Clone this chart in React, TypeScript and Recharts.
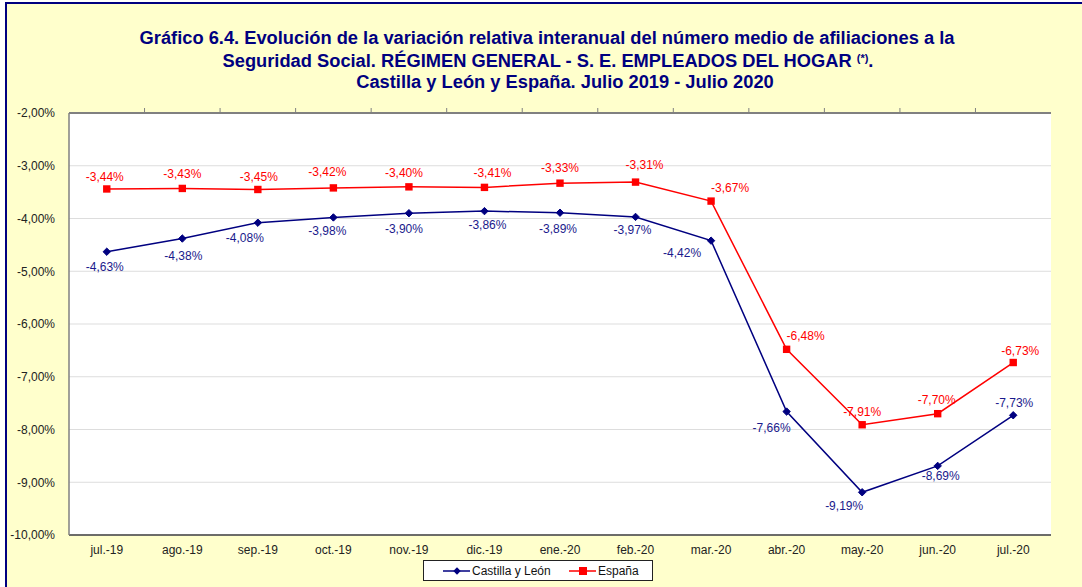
import React from 'react';
import { ComposedChart, Line, XAxis, YAxis, CartesianGrid } from 'recharts';

const months = ['jul.-19', 'ago.-19', 'sep.-19', 'oct.-19', 'nov.-19', 'dic.-19', 'ene.-20', 'feb.-20', 'mar.-20', 'abr.-20', 'may.-20', 'jun.-20', 'jul.-20'];
const castillaLeon = [-4.63, -4.38, -4.08, -3.98, -3.90, -3.86, -3.89, -3.97, -4.42, -7.66, -9.19, -8.69, -7.73];
const espana = [-3.44, -3.43, -3.45, -3.42, -3.40, -3.41, -3.33, -3.31, -3.67, -6.48, -7.91, -7.70, -6.73];
const yTicks = [-10, -9, -8, -7, -6, -5, -4, -3, -2];

// label placement (styling), relative to each point
const clOffsets: [number, number][] = [[-2, 15], [1, 17], [-13, 15], [-6, 14], [-5, 16], [3, 14], [-2, 16], [-3, 13], [-29, 12], [-15, 16], [-18, 14], [3, 10], [1, -12]];
const esOffsets: [number, number][] = [[-2, -12], [0, -14], [1, -12], [-6, -16], [-5, -14], [8, -14], [0, -15], [9, -17], [19, -13], [19, -13], [0, -13], [-1, -14], [7, -12]];

const data = months.map((m, i) => ({ month: m, cl: castillaLeon[i], es: espana[i] }));

const NAVY = '#000080';
const RED = '#FF0000';
const FONT = '"Liberation Sans", Arial, sans-serif';
const PLOT_LEFT = 69;
const PLOT_RIGHT = 1051;
const PLOT_TOP = 113;
const BAND = (PLOT_RIGHT - PLOT_LEFT) / 13;

const fmt = (v: number) => v.toFixed(2).replace('.', ',') + '%';

const Diamond = (props: any) => {
  const { cx, cy } = props;
  if (cx == null || cy == null) return null;
  const r = 3.7;
  return <polygon points={`${cx},${cy - r} ${cx + r},${cy} ${cx},${cy + r} ${cx - r},${cy}`} fill={NAVY} stroke={NAVY} />;
};

const Square = (props: any) => {
  const { cx, cy } = props;
  if (cx == null || cy == null) return null;
  return <rect x={cx - 3.7} y={cy - 3.7} width={7.4} height={7.4} fill={RED} />;
};

const makeLabel = (offsets: [number, number][], color: string) => (props: any) => {
  const { x, y, value, index } = props;
  if (x == null || y == null) return null;
  const [dx, dy] = offsets[index] || [0, 0];
  return (
    <text x={x + dx} y={y + dy} textAnchor="middle" dominantBaseline="central" fontSize={12} fontFamily={FONT} fill={color}>
      {fmt(Number(value))}
    </text>
  );
};

const titleStyle: React.CSSProperties = { position: 'absolute', left: 0, textAlign: 'center', color: NAVY, fontWeight: 'bold', fontSize: 18.3, lineHeight: '20px', whiteSpace: 'nowrap' };

export default function App() {
  return (
    <div style={{ position: 'fixed', left: 0, top: 0, width: 1082, height: 587, overflow: 'hidden', background: '#fff', fontFamily: FONT }}>
      <div style={{ position: 'absolute', left: 5, top: 2, width: 1100, height: 600, background: '#FFFFCC', borderLeft: `2px solid ${NAVY}`, borderTop: `2px solid ${NAVY}` }} />
      <div style={{ ...titleStyle, top: 28, width: 1094 }}>
        Gráfico 6.4. Evolución de la variación relativa interanual del número medio de afiliaciones a la
      </div>
      <div style={{ ...titleStyle, top: 48, width: 1096 }}>
        Seguridad Social. RÉGIMEN GENERAL - S. E. EMPLEADOS DEL HOGAR <span style={{ fontSize: 11, verticalAlign: 5 }}>(*)</span>.
      </div>
      <div style={{ ...titleStyle, top: 72, width: 1130 }}>
        Castilla y León y España. Julio 2019 - Julio 2020
      </div>
      <div style={{ position: 'absolute', left: 0, top: 0 }}>
        <ComposedChart width={1082} height={587} data={data} margin={{ top: PLOT_TOP, right: 31, bottom: 22, left: 9 }}>
          <CartesianGrid vertical={false} horizontal={true} stroke="#DDDDDD" fill="#FFFFFF" />
          <XAxis
            dataKey="month"
            interval={0}
            height={30}
            padding={{ left: BAND / 2, right: BAND / 2 }}
            tickLine={false}
            axisLine={{ stroke: '#404040', strokeWidth: 1.5 }}
            tick={{ fontSize: 12, fill: '#222', fontFamily: FONT }}
            tickMargin={4}
          />
          <YAxis
            domain={[-10, -2]}
            ticks={yTicks}
            interval={0}
            width={60}
            tickLine={false}
            axisLine={{ stroke: '#808080', strokeWidth: 1.5 }}
            tick={{ fontSize: 12, fill: '#222', fontFamily: FONT }}
            tickFormatter={(v: number) => fmt(v)}
            tickMargin={8}
          />
          <YAxis
            yAxisId="right"
            orientation="right"
            domain={[-10, -2]}
            width={0}
            tick={false}
            tickLine={false}
            axisLine={{ stroke: '#808080', strokeWidth: 2 }}
          />
          <Line dataKey="cl" stroke={NAVY} strokeWidth={1.5} dot={<Diamond />} activeDot={false} isAnimationActive={false} label={makeLabel(clOffsets, '#1A1A8C')} />
          <Line dataKey="es" stroke={RED} strokeWidth={1.5} dot={<Square />} activeDot={false} isAnimationActive={false} label={makeLabel(esOffsets, RED)} />
        </ComposedChart>
      </div>
      <svg width={1082} height={120} style={{ position: 'absolute', left: 0, top: 0, pointerEvents: 'none' }}>
        <line x1={PLOT_LEFT} x2={PLOT_RIGHT} y1={PLOT_TOP} y2={PLOT_TOP} stroke="#808080" strokeWidth={2} />
        {months.slice(1).map((m, i) => {
          const bx = PLOT_LEFT + BAND * (i + 1);
          return <line key={m} x1={bx} x2={bx} y1={PLOT_TOP} y2={PLOT_TOP - 5} stroke="#808080" strokeWidth={1} />;
        })}
      </svg>
      <div style={{ position: 'absolute', left: 423, top: 560, width: 228, height: 19, border: '1px solid #222', background: '#fff', color: '#111' }}>
        <svg width={228} height={19} style={{ position: 'absolute', left: 0, top: 0 }}>
          <line x1={19} y1={10} x2={46} y2={10} stroke={NAVY} strokeWidth={1.5} />
          <polygon points="33,6.3 36.7,10 33,13.7 29.3,10" fill={NAVY} />
          <text x={48} y={10} dominantBaseline="central" fontSize={12} fontFamily={FONT} fill="#111">Castilla y León</text>
          <line x1={145} y1={10} x2={172} y2={10} stroke={RED} strokeWidth={1.5} />
          <rect x={155} y={6} width={8} height={8} fill={RED} />
          <text x={174} y={10} dominantBaseline="central" fontSize={12} fontFamily={FONT} fill="#111">España</text>
        </svg>
      </div>
    </div>
  );
}
